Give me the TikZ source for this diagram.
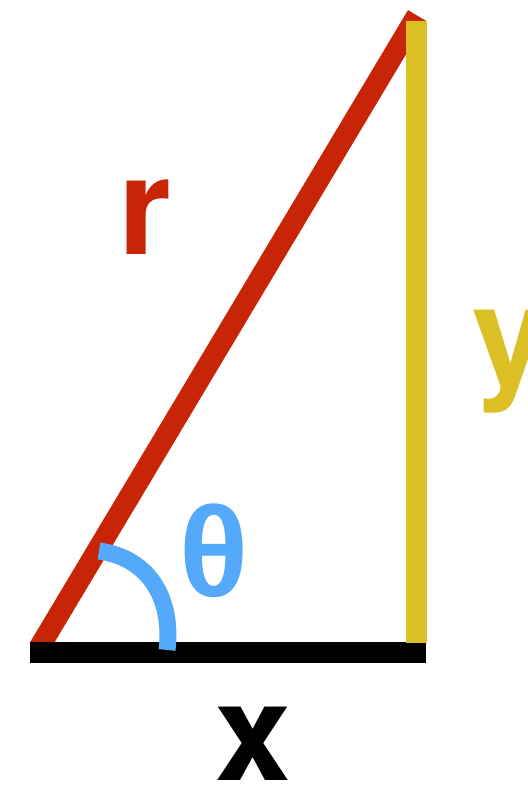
\documentclass[tikz,border=0pt]{standalone}
\usepackage{fontspec}
\setmainfont{TeX Gyre Heros}
\newfontfamily\greekfont{Liberation Sans}
\usetikzlibrary{positioning}

\definecolor{hypred}{RGB}{200,37,6}
\definecolor{oppyellow}{RGB}{220,190,37}
\definecolor{angblue}{RGB}{84,169,251}

\begin{document}
\begin{tikzpicture}[
  x=0.5pt, y=-0.5pt,
  side/.style={line width=10.5pt, line cap=butt},
  hyp/.style={side, draw=hypred},
  opp/.style={side, draw=oppyellow},
  adj/.style={side, draw=black},
  angarc/.style={line width=8.5pt, line cap=butt, draw=angblue},
  lbl/.style={anchor=base, inner sep=0pt, font=\fontsize{68}{68}\selectfont\bfseries}
]
\useasboundingbox (0,0) rectangle (528,786);

\coordinate (O) at (30,652);
\coordinate (X) at (425.7,652);
\coordinate (Ybot) at (416.2,643);
\coordinate (Ytop) at (416.2,20.7);
\coordinate (Rbot) at (36.5,652);
\coordinate (Rtop) at (417,15.5);
\coordinate (Tstart) at (99,551);
\coordinate (Tend) at (167,650);

% hypotenuse, cut off at the base line
\begin{scope}
  \clip (0,0) rectangle (528,642);
  \draw[hyp] (Rbot) -- (Rtop);
\end{scope}
\draw[adj] (O) -- (X);
\draw[opp] (Ybot) -- (Ytop);
\draw[angarc] (Tstart) .. controls (150,558) and (173,600) .. (Tend);

\node[lbl, text=hypred] (rlbl) at (144.5,254) {r};
\node[lbl, text=oppyellow, anchor=base west] (ylbl) at (472,383) {y};
\node[lbl, text=black] (xlbl) at (253,780) {x};
\node[lbl, text=angblue, font=\greekfont\fontsize{64}{64}\selectfont\bfseries] (tlbl) at (214,596) {θ};
\end{tikzpicture}
\end{document}
